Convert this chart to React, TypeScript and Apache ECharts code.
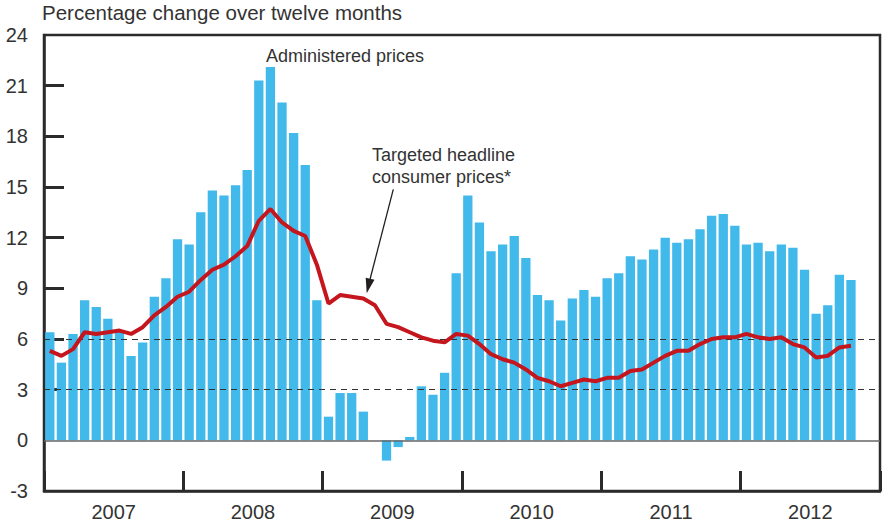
import React, { useEffect, useRef } from "react";
import * as echarts from "echarts";

const years = ["2007", "2008", "2009", "2010", "2011", "2012"];
const monthNames = ["Jan", "Feb", "Mar", "Apr", "May", "Jun", "Jul", "Aug", "Sep", "Oct", "Nov", "Dec"];
const months = years.flatMap((y) => monthNames.map((m) => `${m} ${y}`));

const administeredPrices = [
  6.4, 4.6, 6.3, 8.3, 7.9, 7.2, 6.5, 5.0, 5.8, 8.5, 9.6, 11.9,
  11.6, 13.5, 14.8, 14.5, 15.1, 16.0, 21.3, 22.1, 20.0, 18.2, 16.3, 8.3,
  1.4, 2.8, 2.8, 1.7, 0, -1.2, -0.4, 0.2, 3.2, 2.7, 4.0, 9.9,
  14.5, 12.9, 11.2, 11.6, 12.1, 10.8, 8.6, 8.3, 7.1, 8.4, 8.9, 8.5,
  9.6, 9.9, 10.9, 10.7, 11.3, 12.0, 11.7, 11.9, 12.5, 13.3, 13.4, 12.7,
  11.6, 11.7, 11.2, 11.6, 11.4, 10.1, 7.5, 8.0, 9.8, 9.5,
];

const targetedCPI = [
  5.3, 5.0, 5.4, 6.4, 6.3, 6.4, 6.5, 6.3, 6.7, 7.4, 7.9, 8.5,
  8.8, 9.5, 10.1, 10.4, 10.9, 11.5, 13.0, 13.7, 12.9, 12.4, 12.1, 10.4,
  8.1, 8.6, 8.5, 8.4, 8.0, 6.9, 6.7, 6.4, 6.1, 5.9, 5.8, 6.3,
  6.2, 5.7, 5.1, 4.8, 4.6, 4.2, 3.7, 3.5, 3.2, 3.4, 3.6, 3.5,
  3.7, 3.7, 4.1, 4.2, 4.6, 5.0, 5.3, 5.3, 5.7, 6.0, 6.1, 6.1,
  6.3, 6.1, 6.0, 6.1, 5.7, 5.5, 4.9, 5.0, 5.5, 5.6,
];

const targetBand = [3, 6];
const yTicks = [3, 6, 9, 12, 15, 18, 21];

const FONT = "'Liberation Sans', Arial, Helvetica, sans-serif";
const TEXT = "#333333";
const AXIS = "#2b2b2b";

export default function App() {
  const ref = useRef<HTMLDivElement>(null);

  useEffect(() => {
    if (!ref.current) return;
    const chart = echarts.init(ref.current, undefined, { renderer: "svg" });

    const option: any = {
      animation: false,
      backgroundColor: "#ffffff",
      textStyle: { fontFamily: FONT },
      grid: {
        left: 44,
        right: 2,
        top: 35,
        bottom: 33,
        show: true,
        borderColor: AXIS,
        borderWidth: 2.5,
        backgroundColor: "transparent",
      },
      xAxis: [
        {
          type: "category",
          data: months,
          show: false,
          position: "top",
          boundaryGap: true,
        },
        {
          type: "category",
          data: years,
          position: "bottom",
          boundaryGap: true,
          axisLine: { show: true, lineStyle: { color: AXIS, width: 2.5 } },
          axisTick: {
            show: true,
            inside: true,
            length: 20,
            interval: 0,
            lineStyle: { color: AXIS, width: 3 },
          },
          axisLabel: { fontSize: 20, color: TEXT, margin: 11, fontFamily: FONT },
          splitLine: { show: false },
        },
      ],
      yAxis: {
        type: "value",
        min: -3,
        max: 24,
        interval: 3,
        axisLine: { show: true, lineStyle: { color: AXIS, width: 2.5 } },
        axisTick: {
          show: true,
          inside: true,
          length: 20,
          lineStyle: { color: AXIS, width: 3 },
          customValues: yTicks,
        },
        axisLabel: { fontSize: 20, color: TEXT, margin: 16, fontFamily: FONT },
        splitLine: { show: false },
      },
      series: [
        {
          type: "bar",
          name: "Administered prices",
          xAxisIndex: 0,
          data: administeredPrices,
          barCategoryGap: "20%",
          itemStyle: { color: "#41b9eb" },
          z: 2,
          markLine: {
            silent: true,
            symbol: "none",
            label: { show: false },
            z: 3,
            data: [
              { yAxis: 0, lineStyle: { type: "solid", color: "#666666", width: 1.6 } },
              ...targetBand.map((v) => ({
                yAxis: v,
                lineStyle: { type: [6, 5], color: "#333333", width: 1.2 },
              })),
            ],
          },
        },
        {
          type: "line",
          name: "Targeted headline consumer prices*",
          xAxisIndex: 0,
          data: targetedCPI,
          symbol: "none",
          lineStyle: { color: "#c4161c", width: 4 },
          z: 5,
        },
      ],
      graphic: [
        {
          type: "text",
          x: 42,
          y: 12,
          style: {
            text: "Percentage change over twelve months",
            fontSize: 20.5,
            fill: TEXT,
            fontFamily: FONT,
            textVerticalAlign: "middle",
          },
        },
        {
          type: "text",
          x: 266,
          y: 56,
          style: {
            text: "Administered prices",
            fontSize: 18,
            fill: TEXT,
            fontFamily: FONT,
            textVerticalAlign: "middle",
          },
          z: 10,
        },
        {
          type: "text",
          x: 372,
          y: 155,
          style: {
            text: "Targeted headline",
            fontSize: 18,
            fill: TEXT,
            fontFamily: FONT,
            textVerticalAlign: "middle",
          },
          z: 10,
        },
        {
          type: "text",
          x: 372,
          y: 177,
          style: {
            text: "consumer prices*",
            fontSize: 18,
            fill: TEXT,
            fontFamily: FONT,
            textVerticalAlign: "middle",
          },
          z: 10,
        },
        {
          type: "line",
          shape: { x1: 393.3, y1: 189.3, x2: 370.1, y2: 279 },
          style: { stroke: "#231f20", lineWidth: 1.3 },
          z: 10,
        },
        {
          type: "polygon",
          shape: {
            points: [
              [366.7, 293.3],
              [374.5, 279.7],
              [365.7, 277.7],
            ],
          },
          style: { fill: "#231f20" },
          z: 10,
        },
      ],
    };

    chart.setOption(option);
    return () => chart.dispose();
  }, []);

  return (
    <div
      ref={ref}
      style={{ position: "fixed", left: 0, top: 0, width: 882, height: 524 }}
    />
  );
}
